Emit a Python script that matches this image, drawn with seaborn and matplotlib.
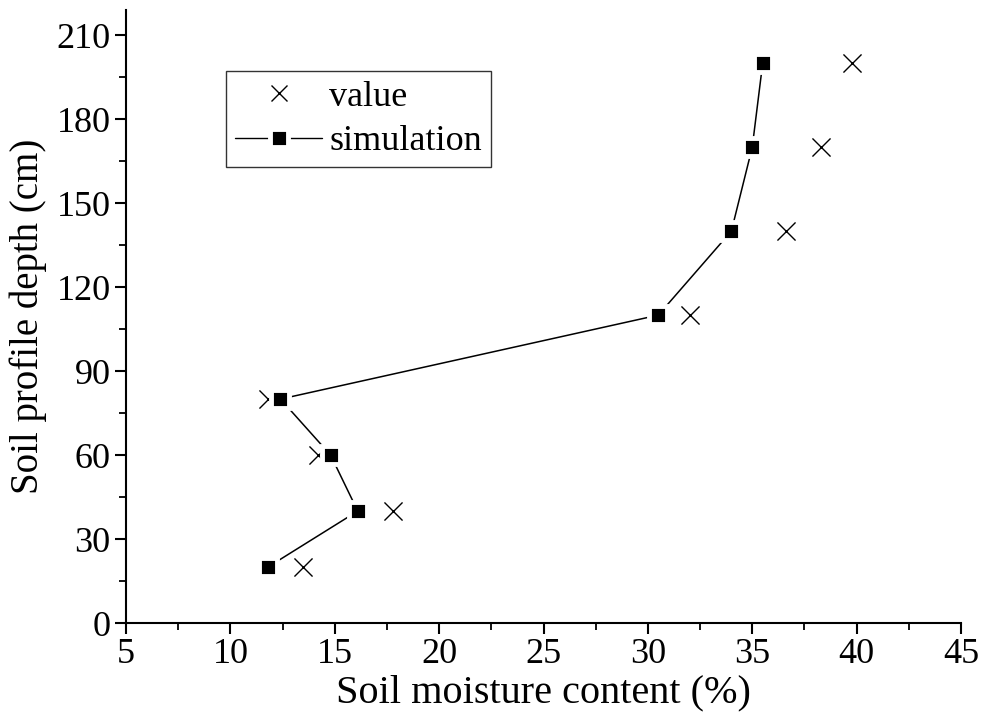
import matplotlib
matplotlib.use("Agg")
import matplotlib.pyplot as plt
import seaborn as sns
import pandas as pd
from matplotlib.ticker import MultipleLocator
from matplotlib.lines import Line2D

sns.set_style("ticks")
plt.rcParams['font.family'] = ['Liberation Serif', 'DejaVu Serif']
plt.rcParams['text.color'] = 'black'
plt.rcParams['axes.labelcolor'] = 'black'
plt.rcParams['xtick.color'] = 'black'
plt.rcParams['ytick.color'] = 'black'
plt.rcParams['axes.edgecolor'] = 'black'

depth = [20, 40, 60, 80, 110, 140, 170, 200]
value = [13.5, 17.8, 14.2, 11.8, 32.0, 36.6, 38.3, 39.8]
simulation = [11.8, 16.1, 14.8, 12.4, 30.5, 34.0, 35.0, 35.5]

df = pd.DataFrame({"depth": depth, "value": value, "simulation": simulation})

fig = plt.figure(figsize=(9.9, 7.19), dpi=100)
ax = fig.add_axes([0.1273, 0.1335, 0.8434, 0.8526])

sns.lineplot(data=df, x="simulation", y="depth", sort=False, ax=ax, color="black",
             linewidth=1.1, marker="s", markersize=13.5, markerfacecolor="black",
             markeredgecolor="white", markeredgewidth=3.5, estimator=None)
sns.scatterplot(data=df, x="value", y="depth", ax=ax, marker="x", s=170,
                color="black", linewidth=1.0)

ax.set_xlim(5, 45)
ax.set_ylim(0, 219)
ax.xaxis.set_major_locator(MultipleLocator(5))
ax.xaxis.set_minor_locator(MultipleLocator(2.5))
ax.yaxis.set_major_locator(MultipleLocator(30))
ax.yaxis.set_minor_locator(MultipleLocator(15))
ax.set_yticks([0, 30, 60, 90, 120, 150, 180, 210])
for s in ["top", "right"]:
    ax.spines[s].set_visible(False)
for s in ["left", "bottom"]:
    ax.spines[s].set_linewidth(1.5)
ax.tick_params(which="major", direction="out", length=8, width=1.5, labelsize=26, pad=3,
               colors="black")
ax.tick_params(which="minor", direction="out", length=5, width=1.3, colors="black")
ax.set_xlabel("Soil moisture content (%)", fontsize=29, labelpad=2, color="black")
ax.set_ylabel("Soil profile depth (cm)", fontsize=28, labelpad=7, color="black")

handles = [
    Line2D([], [], color="none", marker="x", markersize=12, markeredgecolor="black",
           markeredgewidth=1.0, linestyle="none"),
    Line2D([], [], color="black", linewidth=1.0, marker="s", markersize=12.5,
           markerfacecolor="black", markeredgecolor="white", markeredgewidth=3.5),
]
leg = ax.legend(handles, ["value", "simulation"], loc="upper left",
                bbox_to_anchor=(0.12, 0.90), fontsize=26, frameon=True,
                fancybox=False, edgecolor="black", handlelength=2.4,
                borderpad=0.25, labelspacing=0.32, handletextpad=0.2,
                borderaxespad=0)
leg.get_frame().set_linewidth(1.0)
for t in leg.get_texts():
    t.set_color("black")

fig.savefig("out.png", dpi=100)
